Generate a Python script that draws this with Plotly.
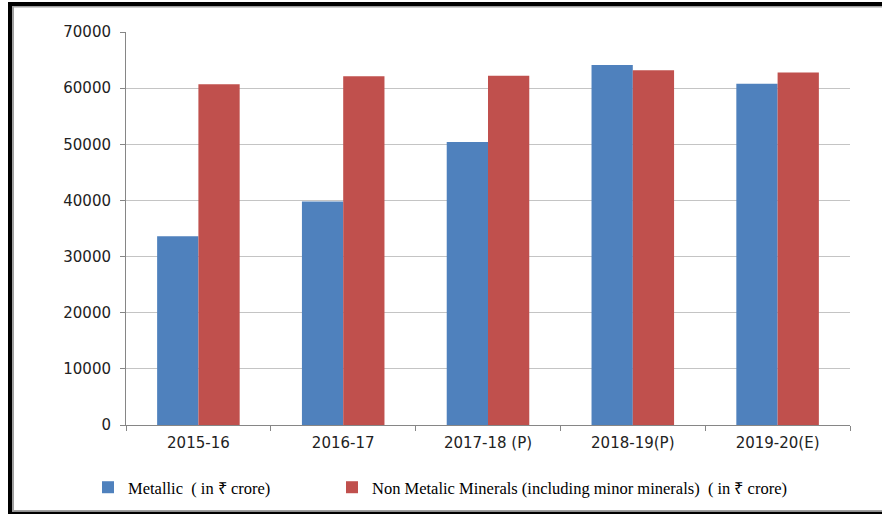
import plotly.graph_objects as go

categories = ["2015-16", "2016-17", "2017-18 (P)", "2018-19(P)", "2019-20(E)"]
metallic = [33600, 39800, 50400, 64100, 60800]
non_metallic = [60700, 62100, 62200, 63200, 62800]
series_names = ["Metallic  ( in \u20b9 crore)",
                "Non Metalic Minerals (including minor minerals)  ( in \u20b9 crore)"]
y_ticks = [0, 10000, 20000, 30000, 40000, 50000, 60000, 70000]
y_tick_text = [str(v) for v in y_ticks]

W, H = 882, 514
L, R, T, B = 126, 32, 32, 89
PW, PH = W - L - R, H - T - B

def px_x(x):
    return (x - L) / PW

def px_y(y):
    return (H - B - y) / PH

fig = go.Figure()
fig.add_trace(go.Bar(x=categories, y=metallic, name=series_names[0], legend="legend",
                     marker=dict(color="#4F81BD", line=dict(width=0))))
fig.add_trace(go.Bar(x=categories, y=non_metallic, name=series_names[1], legend="legend2",
                     marker=dict(color="#C0504D", line=dict(width=0))))

shapes = []
shapes.append(dict(type="rect", xref="paper", yref="paper", x0=px_x(8), x1=px_x(12),
                   y0=px_y(513.5), y1=px_y(2), fillcolor="black", line=dict(width=0), layer="above"))
shapes.append(dict(type="rect", xref="paper", yref="paper", x0=px_x(8), x1=px_x(882),
                   y0=px_y(6), y1=px_y(2), fillcolor="black", line=dict(width=0), layer="above"))
shapes.append(dict(type="rect", xref="paper", yref="paper", x0=px_x(8), x1=px_x(882),
                   y0=px_y(514), y1=px_y(511.5), fillcolor="black", line=dict(width=0), layer="above"))
shapes.append(dict(type="rect", xref="paper", yref="paper", x0=px_x(12), x1=px_x(14),
                   y0=px_y(511.5), y1=px_y(6), fillcolor="#a0a0a0", line=dict(width=0), layer="above"))
shapes.append(dict(type="rect", xref="paper", yref="paper", x0=px_x(12), x1=px_x(882),
                   y0=px_y(7.5), y1=px_y(6), fillcolor="#a0a0a0", line=dict(width=0), layer="above"))
shapes.append(dict(type="rect", xref="paper", yref="paper", x0=px_x(12), x1=px_x(882),
                   y0=px_y(511.5), y1=px_y(510), fillcolor="#a0a0a0", line=dict(width=0), layer="above"))

legend_font = dict(family="Liberation Serif", size=16.5, color="black")

fig.update_layout(
    width=W, height=H,
    margin=dict(l=L, r=R, t=T, b=B, autoexpand=False),
    paper_bgcolor="white", plot_bgcolor="white",
    barmode="group", bargap=0.43, bargroupgap=0,
    shapes=shapes,
    showlegend=True,
    legend=dict(orientation="h", x=px_x(88), y=px_y(470), xanchor="left", yanchor="top",
                font=legend_font, itemwidth=30, bgcolor="rgba(0,0,0,0)"),
    legend2=dict(orientation="h", x=px_x(332), y=px_y(470), xanchor="left", yanchor="top",
                 font=legend_font, itemwidth=30, bgcolor="rgba(0,0,0,0)"),
    xaxis=dict(type="category", showline=True, linecolor="#868686", linewidth=1,
               ticks="outside", ticklen=5, tickcolor="#868686", tickson="boundaries",
               tickfont=dict(family="DejaVu Sans", size=15, color="#222222"),
               showgrid=False, ticklabelstandoff=4),
    yaxis=dict(range=[0, 70000], tickvals=y_ticks, ticktext=y_tick_text,
               showline=True, linecolor="#868686",
               linewidth=1, ticks="outside", ticklen=5, tickcolor="#868686",
               showgrid=True, gridcolor="#c4c4c4", gridwidth=1, zeroline=False,
               tickfont=dict(family="DejaVu Sans", size=15, color="#222222"),
               ticklabelstandoff=6),
)

fig.write_html("out.html")
